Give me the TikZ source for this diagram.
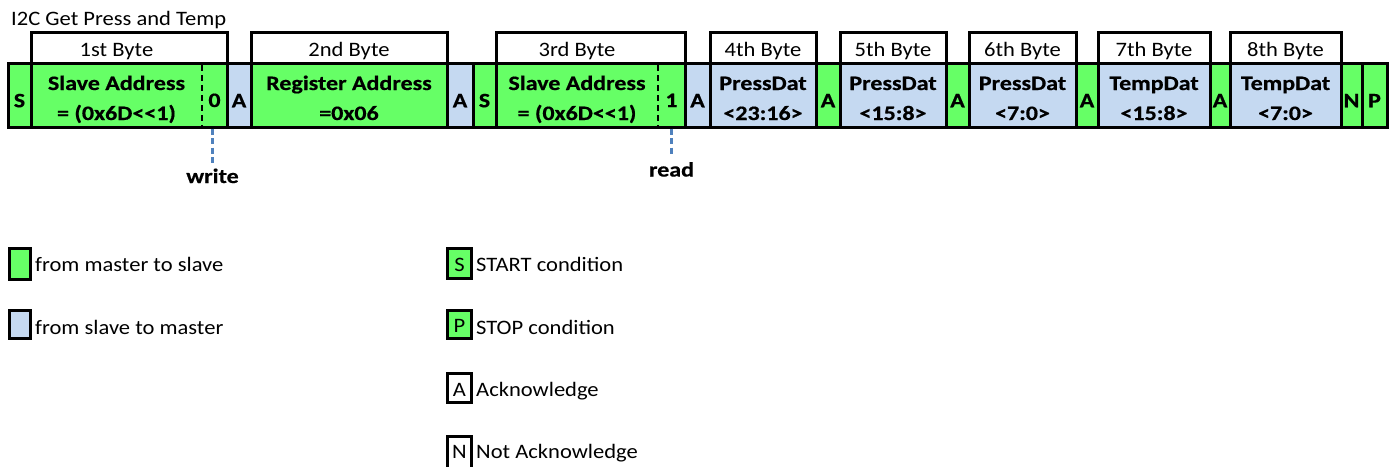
\documentclass[tikz,border=0pt]{standalone}
\usepackage{fontspec}
\setmainfont{Carlito}[FakeStretch=1.1, BoldFeatures={FakeStretch=1.17, FakeBold=0.6}, Ligatures=TeXOff]
\definecolor{mgreen}{HTML}{66FF66}
\definecolor{sblue}{HTML}{C5D9F1}
\definecolor{dblue}{HTML}{4F81BD}
\begin{document}
\begin{tikzpicture}[x=1pt,y=-1pt,
 every node/.style={font=\fontsize{20.5}{24}\selectfont, inner sep=0pt, text=black},
 cellbox/.style={draw=black, line width=3pt, minimum height=63.5pt, inner sep=0pt, text height=24pt, text depth=0pt, font=\fontsize{20.5}{24}\selectfont\bfseries},
 ms/.style={cellbox, fill=mgreen},
 sm/.style={cellbox, fill=sblue},
 hdr/.style={draw=black, line width=3pt, fill=white, minimum height=31.5pt, text height=16.5pt, text depth=0pt},
 hdrtext/.style={anchor=base},
 lbl/.style={font=\fontsize{20.5}{24}\selectfont\bfseries, anchor=base},
 lg/.style={draw=black, line width=3pt, text height=16.5pt, text depth=0pt},
 lgtext/.style={anchor=base west},
 bitdash/.style={draw=black, line width=2.5pt, dash pattern=on 6pt off 4pt},
 dirdash/.style={draw=dblue, line width=2.5pt, dash pattern=on 6pt off 3.5pt},
]
\useasboundingbox (0,0) rectangle (1395,466);
\fill[white] (0,0) rectangle (1395,466);

% title
\node[anchor=base west] (title) at (11,25) {I2C Get Press and Temp};

% byte headers
\node[hdr, minimum width=196pt] (h1) at (129,47.75) {};
\node[hdrtext] (h1t) at (116.5,56) {1st Byte};
\node[hdr, minimum width=196pt] (h2) at (349,47.75) {2nd Byte};
\node[hdr, minimum width=189pt] (h3) at (590.5,47.75) {};
\node[hdrtext] (h3t) at (577,56) {3rd Byte};
\node[hdr, minimum width=106pt] (h4) at (763,47.75) {4th Byte};
\node[hdr, minimum width=106pt] (h5) at (893,47.75) {5th Byte};
\node[hdr, minimum width=107pt] (h6) at (1022.5,47.75) {6th Byte};
\node[hdr, minimum width=112pt] (h7) at (1154,47.75) {7th Byte};
\node[hdr, minimum width=111pt] (h8) at (1285.5,47.75) {8th Byte};

% frame row
\node[ms, minimum width=23pt]  (s1) at (19.5,95.25) {S};
\node[ms, minimum width=196pt] (b1) at (129,95.25) {};
\node[sm, minimum width=24pt]  (a1) at (239,95.25) {A};
\node[ms, minimum width=196pt] (b2) at (349,95.25) {};
\node[sm, minimum width=26pt]  (a2) at (460,95.25) {A};
\node[ms, minimum width=23pt]  (s2) at (484.5,95.25) {S};
\node[ms, minimum width=189pt] (b3) at (590.5,95.25) {};
\node[sm, minimum width=25pt]  (a3) at (697.5,95.25) {A};
\node[sm, minimum width=106pt] (b4) at (763,95.25) {};
\node[ms, minimum width=24pt]  (a4) at (828,95.25) {A};
\node[sm, minimum width=106pt] (b5) at (893,95.25) {};
\node[ms, minimum width=23pt]  (a5) at (957.5,95.25) {A};
\node[sm, minimum width=107pt] (b6) at (1022.5,95.25) {};
\node[ms, minimum width=22pt]  (a6) at (1087,95.25) {A};
\node[sm, minimum width=112pt] (b7) at (1154,95.25) {};
\node[ms, minimum width=20pt]  (a7) at (1220,95.25) {A};
\node[sm, minimum width=111pt] (b8) at (1285.5,95.25) {};
\node[ms, minimum width=21pt]  (nk) at (1351.5,95.25) {N};
\node[ms, minimum width=25pt]  (pp) at (1374.5,95.25) {P};

% cell texts
\node[lbl] (b1a) at (116.5,90) {Slave Address};
\node[lbl] (b1b) at (116.5,120) {= (0x6D<<1)};
\node[lbl] (b1c) at (214.5,107) {0};
\node[lbl] (b2a) at (349,90) {Register Address};
\node[lbl] (b2b) at (349,120) {=0x06};
\node[lbl] (b3a) at (577,90) {Slave Address};
\node[lbl] (b3b) at (577,120) {= (0x6D<<1)};
\node[lbl] (b3c) at (671.5,107) {1};
\node[lbl] (b4a) at (763,90) {PressDat};
\node[lbl] (b4b) at (763,120) {<23:16>};
\node[lbl] (b5a) at (893,90) {PressDat};
\node[lbl] (b5b) at (893,120) {<15:8>};
\node[lbl] (b6a) at (1022.5,90) {PressDat};
\node[lbl] (b6b) at (1022.5,120) {<7:0>};
\node[lbl] (b7a) at (1154,90) {TempDat};
\node[lbl] (b7b) at (1154,120) {<15:8>};
\node[lbl] (b8a) at (1285.5,90) {TempDat};
\node[lbl] (b8b) at (1285.5,120) {<7:0>};

% R/W bit separators
\coordinate (d1t) at (202,65);
\coordinate (d1b) at (202,127);
\draw[bitdash] (d1t) -- (d1b);
\coordinate (d3t) at (658,65);
\coordinate (d3b) at (658,127);
\draw[bitdash] (d3t) -- (d3b);

% write / read markers
\coordinate (w0) at (212.5,128.5);
\node[lbl] (write) at (212.5,183) {write};
\draw[dirdash, shorten >=5pt] (w0) -- (write.north);
\coordinate (r0) at (671.5,128.5);
\node[lbl] (read) at (671.5,176.5) {read};
\draw[dirdash, shorten >=5pt] (r0) -- (read.north);

% legend
\node[lg, fill=mgreen, minimum width=21pt, minimum height=31pt] (lgm) at (19.5,263.5) {};
\node[lgtext] (lgmt) at (35,271.7) {from master to slave};
\node[lg, fill=sblue, minimum width=21pt, minimum height=28pt] (lgs) at (19.5,324.5) {};
\node[lgtext] (lgst) at (35,334) {from slave to master};

\node[lg, fill=mgreen, minimum width=24pt, minimum height=30pt] (lgS) at (459.5,263.5) {S};
\node[lgtext] (lgSt) at (476,271.7) {START condition};
\node[lg, fill=mgreen, minimum width=24pt, minimum height=28pt] (lgP) at (459.5,324.5) {P};
\node[lgtext] (lgPt) at (476,334) {STOP condition};
\node[lg, fill=white, minimum width=24pt, minimum height=29pt] (lgA) at (459.5,388) {A};
\node[lgtext] (lgAt) at (476,396) {Acknowledge};
\node[lg, fill=white, minimum width=24pt, minimum height=32pt, text height=12pt] (lgN) at (459.5,452.5) {N};
\node[lgtext] (lgNt) at (476,458.3) {Not Acknowledge};
\end{tikzpicture}
\end{document}
